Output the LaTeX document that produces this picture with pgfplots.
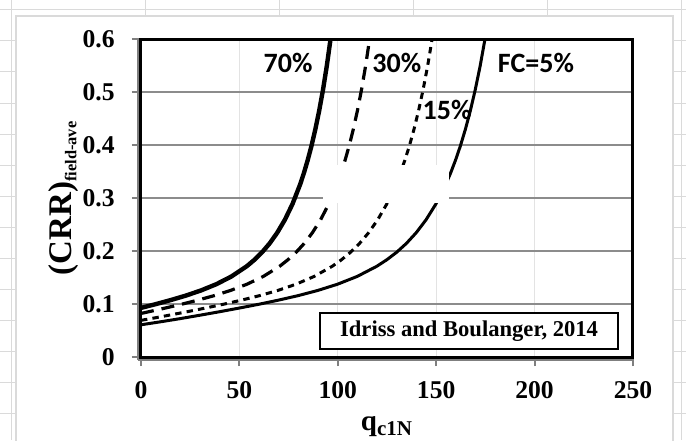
\documentclass[border=0pt]{standalone}
\usepackage{pgfplots}
\pgfplotsset{compat=1.18}
\usepackage{fontspec}
\setmainfont{Liberation Serif}[BoldFont={Liberation Serif Bold}]
\newfontfamily\calibri{Carlito}[BoldFont={Carlito Bold}]
\definecolor{sheet}{HTML}{DADADA}
\definecolor{gridv}{HTML}{E3E3E3}
\definecolor{gridh}{HTML}{8C8C8C}
\definecolor{axgray}{HTML}{7F7F7F}

\pgfplotstableread{
q crr
0 0.0608
9.89 0.0664
19.89 0.0724
29.88 0.0788
39.88 0.0854
49.87 0.0923
59.87 0.0995
69.86 0.1073
79.85 0.1158
89.85 0.1256
99.84 0.1373
109.84 0.1520
119.83 0.1712
124.83 0.1833
129.83 0.1974
134.82 0.2142
139.82 0.2344
144.82 0.2588
149.81 0.2885
154.81 0.3253
157.31 0.3470
159.81 0.3713
162.31 0.3985
164.81 0.4293
167.31 0.4641
169.80 0.5035
172.30 0.5484
174.80 0.6000
}\fcfive
\pgfplotstableread{
q crr
0 0.0692
4.95 0.0724
14.18 0.0788
23.40 0.0854
32.62 0.0923
41.85 0.0995
51.07 0.1073
60.29 0.1158
69.52 0.1256
78.74 0.1373
87.96 0.1520
97.19 0.1712
101.80 0.1833
106.41 0.1974
111.02 0.2142
115.63 0.2344
120.25 0.2588
124.86 0.2885
129.47 0.3253
131.78 0.3470
134.08 0.3713
136.39 0.3985
138.69 0.4293
141.00 0.4641
143.30 0.5035
145.61 0.5484
147.92 0.6000
}\fcfifteen
\pgfplotstableread{
q crr
0 0.0822
3.94 0.0854
12.25 0.0923
20.57 0.0995
28.88 0.1073
37.19 0.1158
45.51 0.1256
53.82 0.1373
62.13 0.1520
70.45 0.1712
74.60 0.1833
78.76 0.1974
82.92 0.2142
87.07 0.2344
91.23 0.2588
95.38 0.2885
99.54 0.3253
101.62 0.3470
103.70 0.3713
105.78 0.3985
107.85 0.4293
109.93 0.4641
112.01 0.5035
114.09 0.5484
116.17 0.6000
}\fcthirty
\pgfplotstableread{
q crr
0 0.0927
7.26 0.0995
15.01 0.1073
22.75 0.1158
30.50 0.1256
38.24 0.1373
45.98 0.1520
53.73 0.1712
57.60 0.1833
61.47 0.1974
65.34 0.2142
69.21 0.2344
73.09 0.2588
76.96 0.2885
80.83 0.3253
82.77 0.3470
84.70 0.3713
86.64 0.3985
88.57 0.4293
90.51 0.4641
92.45 0.5035
94.38 0.5484
96.32 0.6000
}\fcseventy

\begin{document}
\begin{tikzpicture}
\useasboundingbox (-70.5pt,-41.5pt) rectangle (272.5pt,178.5pt);
% spreadsheet background
\fill[white] (-70.5pt,-41.5pt) rectangle (272.5pt,178.5pt);
\foreach \y in {173.5,158,142.5,127,111.5,96,80.5,65,49.5,34,18.5,3,-12.5,-28} {
  \draw[sheet,line width=0.5pt] (-70.5pt,\y pt) -- (-62.5pt,\y pt);
  \draw[sheet,line width=0.5pt] (266pt,\y pt) -- (272.5pt,\y pt);
}
\foreach \x in {2,69,136,203} {
  \draw[sheet,line width=0.5pt] (\x pt,178.5pt) -- (\x pt,170.5pt);
}
\draw[sheet,line width=0.5pt] (270pt,178.5pt) -- (270pt,-41.5pt);
\draw[sheet,line width=0.5pt] (-64.5pt,178.5pt) -- (-64.5pt,-41.5pt);
\draw[sheet,line width=0.5pt] (-70.5pt,173.5pt) -- (272.5pt,173.5pt);
% chart area
\filldraw[fill=white,draw=sheet,line width=0.6pt] (-62.5pt,-45pt) rectangle (266pt,170.5pt);
% gray axis lines just outside the frame
\draw[axgray,line width=1.2pt] (-1.4pt,-1.4pt) -- (246pt,-1.4pt);
\draw[axgray,line width=1.2pt] (-1.4pt,-1.4pt) -- (-1.4pt,159pt);
\begin{axis}[
  at={(0pt,0pt)}, anchor=south west,
  scale only axis, width=246pt, height=159pt,
  xmin=0, xmax=250, ymin=0, ymax=0.6,
  xtick={0,50,...,250},
  ytick={0,0.1,0.2,0.3,0.4,0.5,0.6},
  yticklabels={0,0.1,0.2,0.3,0.4,0.5,0.6},
  xticklabels={0,50,100,150,200,250},
  grid=major,
  x grid style={gridv,line width=0.5pt},
  y grid style={gridh,line width=0.6pt},
  axis line style={black,line width=1.5pt},
  tick align=outside,
  major tick length=4.5pt,
  tick style={axgray,line width=1pt},
  xtick pos=bottom, ytick pos=left,
  ticklabel style={font=\fontsize{12.8}{15}\selectfont\bfseries, inner sep=0pt},
  yticklabel style={anchor=east, xshift=-8.5pt},
  xticklabel style={anchor=north, yshift=-7.5pt},
  xlabel={q\textsubscript{\fontsize{10.5}{12}\selectfont c1N}},
  ylabel={(CRR)\textsubscript{\fontsize{8.2}{10}\selectfont field-ave}},
  xlabel style={font=\fontsize{14.5}{16}\selectfont\bfseries, at={(axis description cs:0.5,-0.232)}, anchor=base, inner sep=0pt},
  ylabel style={font=\fontsize{16.5}{18}\selectfont\bfseries, at={(axis description cs:-0.142,0.5)}, anchor=base, inner sep=0pt},
  clip=true,
]
\addplot[black, line width=1.5pt, line join=round] table[x=q,y=crr] {\fcfive};
\addplot[black, line width=1.5pt, dash pattern=on 3.2pt off 2.6pt] table[x=q,y=crr] {\fcfifteen};
\addplot[black, line width=1.6pt, dash pattern=on 6.5pt off 4pt] table[x=q,y=crr] {\fcthirty};
\addplot[black, line width=2.2pt, line join=round] table[x=q,y=crr] {\fcseventy};
\fill[white] (axis cs:92.5,0.2906) rectangle (axis cs:156.5,0.3623);
\node[font=\calibri\fontsize{14}{16}\selectfont\bfseries] at (axis cs:74.7,0.555) {70\%};
\node[font=\calibri\fontsize{14}{16}\selectfont\bfseries] at (axis cs:130,0.555) {30\%};
\node[font=\calibri\fontsize{14}{16}\selectfont\bfseries] at (axis cs:200.7,0.555) {FC=5\%};
\node[font=\calibri\fontsize{14}{16}\selectfont\bfseries] at (axis cs:155.5,0.466) {15\%};
\node[draw=black, line width=1pt, fill=white, minimum width=149pt, minimum height=18pt, inner sep=0pt, font=\fontsize{11.3}{13}\selectfont\bfseries] at (axis cs:166.7,0.049) {Idriss and Boulanger, 2014};
\end{axis}
\end{tikzpicture}
\end{document}
